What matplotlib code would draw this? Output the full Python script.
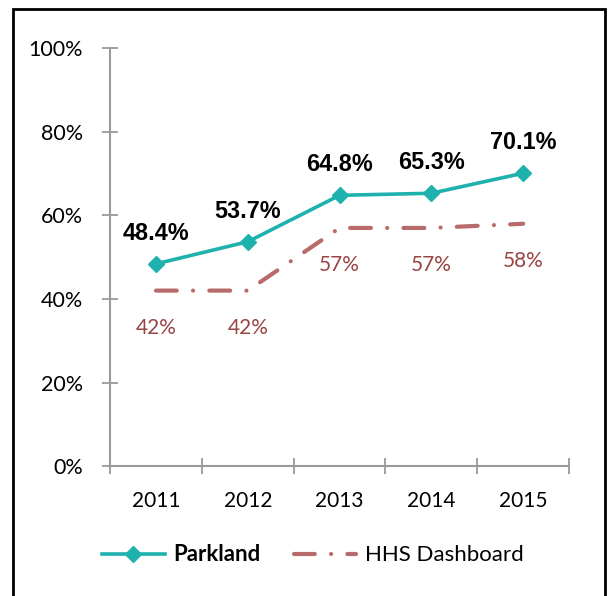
import matplotlib.pyplot as plt
from matplotlib.patches import Rectangle
from matplotlib.lines import Line2D

# Data
years = ["2011", "2012", "2013", "2014", "2015"]
parkland = [48.4, 53.7, 64.8, 65.3, 70.1]
hhs = [42, 42, 57, 57, 58]
y_ticks = [0, 20, 40, 60, 80, 100]

teal = "#1fb1ad"
rose = "#b86b6b"
rose_text = "#9a4444"
axis_gray = "#9a9a9a"
font = "Lato"
hhs_dash = (5, 3.9, 0.01, 3.9)

fig = plt.figure(figsize=(6.08, 5.96), dpi=100)
ax = fig.add_axes([0.181, 0.218, 0.755, 0.701])

x = list(range(len(years)))
ax.plot(x, parkland, color=teal, lw=2.6, marker="D", ms=8, zorder=3)
ax.plot(x, hhs, color=rose, lw=3.0, dashes=hhs_dash, dash_capstyle="round", zorder=2)

for xi, v in zip(x, parkland):
    ax.annotate(f"{v:.1f}%", (xi, v), xytext=(0, 22), textcoords="offset points",
                ha="center", va="center", fontsize=16.8, fontweight="bold",
                family="Liberation Sans", color="black")
for xi, v in zip(x, hhs):
    ax.annotate(f"{v}%", (xi, v), xytext=(0, -27), textcoords="offset points",
                ha="center", va="center", fontsize=15, family=font, color=rose_text)

ax.set_xlim(-0.5, len(years) - 0.5)
ax.set_ylim(0, 100)
ax.set_yticks(y_ticks)
ax.set_yticklabels([f"{t}%" for t in y_ticks], fontsize=15.5, family=font)
ax.set_xticks([i - 0.5 for i in range(len(years) + 1)])
ax.set_xticklabels([])
ax.set_xticks(x, minor=True)
ax.set_xticklabels(years, minor=True, fontsize=15, family=font)
ax.tick_params(axis="x", which="minor", length=0, pad=18)
ax.tick_params(axis="x", which="major", direction="inout", length=11, width=1.3, color=axis_gray)
ax.tick_params(axis="y", direction="inout", length=11, width=1.3, color=axis_gray, pad=14)

for side in ["top", "right"]:
    ax.spines[side].set_visible(False)
for side in ["left", "bottom"]:
    ax.spines[side].set_color(axis_gray)
    ax.spines[side].set_linewidth(1.5)

handles = [
    Line2D([], [], color=teal, lw=2.6, marker="D", ms=8),
    Line2D([], [], color=rose, lw=3.0, dashes=hhs_dash, dash_capstyle="round"),
]
leg = fig.legend(handles, ["Parkland", "HHS Dashboard"], loc="center",
                 bbox_to_anchor=(0.515, 0.069), ncol=2, frameon=False,
                 handlelength=2.8, handletextpad=0.4, columnspacing=1.5,
                 prop={"family": font, "size": 16})
leg.get_texts()[0].set_fontweight("bold")

# outer frame
fig.patches.append(Rectangle((0.021, -0.02), 0.974, 1.005, transform=fig.transFigure,
                             fill=False, edgecolor="black", lw=2))

fig.savefig("out.png", dpi=100)
